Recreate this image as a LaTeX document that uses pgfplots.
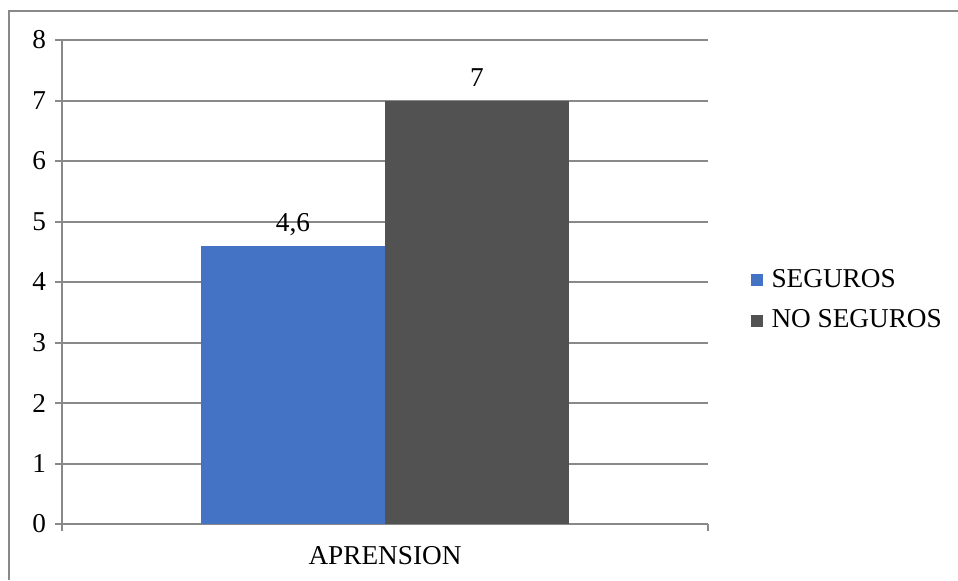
\documentclass[border=0pt]{standalone}
\usepackage{pgfplots}
\pgfplotsset{compat=1.18}
\usepackage{fontspec}
\setmainfont{Liberation Serif}

\definecolor{serieA}{HTML}{4472C4}
\definecolor{serieB}{HTML}{525252}
\definecolor{rejilla}{HTML}{898989}

\begin{document}
\fontsize{10.9}{13}\selectfont
\begin{tikzpicture}[x=0.4pt,y=0.4pt]
\useasboundingbox (0,0) rectangle (958,580);
% outer frame (top and left edges)
\draw[rejilla, line width=0.8pt] (9,0) -- (9,569) -- (958,569);
\begin{axis}[
  at={(24.8pt,22.4pt)}, anchor=south west,
  scale only axis, width=258.4pt, height=193.6pt,
  ybar=0pt, bar width=73.6pt,
  xmin=-0.5, xmax=0.5, ymin=0, ymax=8,
  xtick={-0.5,0.5}, xticklabels={},
  xlabel={APRENSION},
  xlabel style={at={(axis description cs:0.5,0)}, anchor=center, yshift=-12.8pt},
  ytick={0,1,...,8},
  axis lines=left,
  axis line style={-, rejilla, line width=0.8pt},
  tick style={rejilla, line width=0.8pt},
  tick align=outside,
  major tick length=2.6pt,
  ymajorgrids,
  grid style={rejilla, line width=0.8pt},
  /pgf/number format/assume math mode=true,
  /pgf/number format/use comma,
  ticklabel style={font=\fontsize{10.9}{13}\selectfont},
  nodes near coords,
  every node near coord/.append style={anchor=base, yshift=5.8pt, font=\fontsize{10.9}{13}\selectfont, text=black},
  legend style={at={(axis description cs:1.065,0.462)}, anchor=west, draw=none, fill=none,
    inner sep=0pt, row sep=5.3pt,
    nodes={inner ysep=1pt, inner xsep=3.6pt}, font=\fontsize{10.9}{13}\selectfont},
  legend cell align=left,
  legend image code/.code={\fill[#1, draw=none] (0pt,-2.4pt) rectangle (4.8pt,2.4pt);},
]
\addplot[fill=serieA, draw=none] coordinates {(0,4.6)};
\addplot[fill=serieB, draw=none] coordinates {(0,7)};
\legend{SEGUROS, NO SEGUROS}
\end{axis}
\end{tikzpicture}
\end{document}
